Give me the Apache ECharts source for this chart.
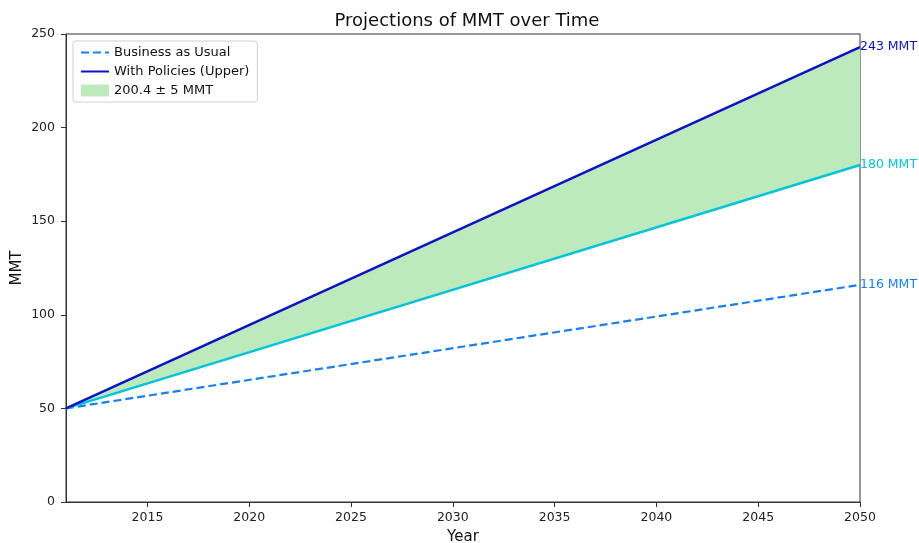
<!DOCTYPE html>
<html>
<head>
<meta charset="utf-8">
<style>
  html, body { margin: 0; padding: 0; background: #fff; }
  #chart { width: 919px; height: 543px; }
</style>
<script src="https://cdn.jsdelivr.net/npm/echarts@6/dist/echarts.min.js"></script>
</head>
<body>
<div id="chart"></div>
<script>
// Projection horizon (start and end year)
const years = [2011, 2050];
// Emission projections in MMT at each year
const businessAsUsual = [50, 116];
const policiesUpper = [50, 243];
const policiesLower = [50, 180];
// Tick marks along the axes
const xTicks = [2015, 2020, 2025, 2030, 2035, 2040, 2045, 2050];
const yTicks = [0, 50, 100, 150, 200, 250];

const FONT = 'DejaVu Sans';
const BAND = '#bdeabd';
const pairs = (vals) => years.map((y, i) => [y, vals[i]]);

const endLabel = (color) => ({
  show: true,
  formatter: (p) => p.value[1] + ' MMT',
  color: color,
  fontFamily: FONT,
  fontSize: 12.5,
  distance: 0
});

// Shaded band between the lower and upper policy projections
function renderBand(params, api) {
  const top = years.map((y, i) => api.coord([y, policiesUpper[i]]));
  const bottom = years.map((y, i) => api.coord([y, policiesLower[i]])).reverse();
  return {
    type: 'polygon',
    shape: { points: top.concat(bottom) },
    style: { fill: BAND }
  };
}

const chart = echarts.init(document.getElementById('chart'));
chart.setOption({
  animation: false,
  backgroundColor: '#fff',
  title: {
    text: 'Projections of MMT over Time',
    left: 462,
    textAlign: 'center',
    top: 7,
    textStyle: { fontFamily: FONT, fontSize: 18, fontWeight: 'normal', color: '#111' }
  },
  legend: {
    orient: 'vertical',
    left: 73,
    top: 41,
    padding: [5, 8, 5, 7],
    itemGap: 6,
    itemWidth: 28,
    itemHeight: 12,
    borderColor: '#d0d0d0',
    borderWidth: 1,
    borderRadius: 3,
    backgroundColor: '#fff',
    textStyle: { fontFamily: FONT, fontSize: 13, color: '#111' },
    data: [
      { name: 'Business as Usual', itemStyle: { opacity: 0 } },
      { name: 'With Policies (Upper)', itemStyle: { opacity: 0 } },
      { name: '200.4 ± 5 MMT', icon: 'rect', itemStyle: { color: BAND } }
    ]
  },
  grid: {
    left: 66, right: 59, top: 34, bottom: 41,
    outerBoundsMode: 'none',
    show: true, borderColor: '#333', borderWidth: 1
  },
  xAxis: {
    type: 'value',
    min: years[0],
    max: years[years.length - 1],
    name: 'Year',
    nameLocation: 'middle',
    nameGap: 28,
    nameTextStyle: { fontFamily: FONT, fontSize: 15, color: '#111' },
    axisLine: { show: true, lineStyle: { color: '#333' } },
    axisTick: { show: true, length: 5, lineStyle: { color: '#333' }, customValues: xTicks },
    axisLabel: {
      fontFamily: FONT, fontSize: 12.5, color: '#222', margin: 9,
      customValues: xTicks, formatter: (v) => String(v)
    },
    splitLine: { show: false }
  },
  yAxis: {
    type: 'value',
    min: yTicks[0],
    max: yTicks[yTicks.length - 1],
    interval: 50,
    name: 'MMT',
    nameLocation: 'middle',
    nameGap: 41,
    nameMoveOverlap: false,
    nameTextStyle: { fontFamily: FONT, fontSize: 15, color: '#111' },
    axisLine: { show: true, lineStyle: { color: '#333' } },
    axisTick: { show: true, length: 5, lineStyle: { color: '#333' } },
    axisLabel: { fontFamily: FONT, fontSize: 12.5, color: '#222', margin: 11 },
    splitLine: { show: false }
  },
  series: [
    {
      name: '200.4 ± 5 MMT',
      type: 'custom',
      renderItem: renderBand,
      data: [[years[0], policiesLower[0]]],
      itemStyle: { color: BAND },
      silent: true,
      z: 1
    },
    {
      name: 'Business as Usual',
      type: 'line',
      data: pairs(businessAsUsual),
      symbol: 'none',
      itemStyle: { color: '#1580f2' },
      lineStyle: { color: '#1580f2', width: 2.2, type: [8, 4] },
      endLabel: endLabel('#1580f2'),
      z: 3
    },
    {
      name: 'With Policies (Lower)',
      type: 'line',
      data: pairs(policiesLower),
      symbol: 'none',
      itemStyle: { color: '#00c4dc' },
      lineStyle: { color: '#00c4dc', width: 2.5 },
      endLabel: endLabel('#00c4dc'),
      z: 3
    },
    {
      name: 'With Policies (Upper)',
      type: 'line',
      data: pairs(policiesUpper),
      symbol: 'none',
      itemStyle: { color: '#0c12c8' },
      lineStyle: { color: '#0c12c8', width: 2.5 },
      endLabel: endLabel('#0c12c8'),
      z: 4
    }
  ]
});
</script>
</body>
</html>
